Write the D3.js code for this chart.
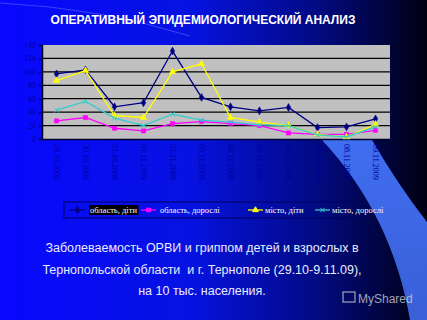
<!DOCTYPE html>
<html>
<head>
<meta charset="utf-8">
<style>
  body {margin: 0; background: #000;}
  svg {display: block;}
</style>
<script src="https://d3js.org/d3.v7.min.js"></script>
</head>
<body>
<svg id="slide" width="427" height="320"></svg>
<script>
// dates on the x axis
var dates = ["29.10.2009", "30.10.2009", "31.10.2009", "01.11.2009", "02.11.2009", "03.11.2009",
             "04.11.2009", "05.11.2009", "06.11.2009", "07.11.2009", "08.11.2009", "09.11.2009"];
var yTicks = [0, 20, 40, 60, 80, 100, 120, 140];

// cases per 10 000
var oblastChildren = [97, 103, 48, 54, 131, 62, 48, 42, 47, 17, 18, 30];
var oblastAdults   = [27, 32, 16, 12, 23, 26, 23, 20, 9, 7, 7, 13];
var cityChildren   = [87, 102, 35, 32, 100, 112, 32, 25, 20, 7, 3, 22];
var cityAdults     = [43, 56, 31, 20, 37, 28, 25, 21, 20, 6, 3, 18];

var seriesNames = ["область, діти", "область, дорослі", "місто, діти", "місто, дорослі"];
var seriesColors = ["#000080", "#ff00ff", "#ffff00", "#33cccc"];
var seriesMarkers = ["diamond", "square", "triangle", "cross"];
var seriesValues = [oblastChildren, oblastAdults, cityChildren, cityAdults];

var svg = d3.select("#slide");

// background gradient
var defs = svg.append("defs");
var bg = defs.append("linearGradient").attr("id", "bg")
  .attr("x1", "0").attr("y1", "0").attr("x2", "1").attr("y2", "0");
bg.append("stop").attr("offset", "0%").attr("stop-color", "#0808ff");
bg.append("stop").attr("offset", "45%").attr("stop-color", "#0612e0");
bg.append("stop").attr("offset", "75%").attr("stop-color", "#020a80");
bg.append("stop").attr("offset", "100%").attr("stop-color", "#000010");
svg.append("rect").attr("width", 427).attr("height", 320).attr("fill", "url(#bg)");

var band = defs.append("linearGradient").attr("id", "band")
  .attr("x1", "0").attr("y1", "0").attr("x2", "0").attr("y2", "1");
band.append("stop").attr("offset", "0%").attr("stop-color", "#3f6ef0");
band.append("stop").attr("offset", "100%").attr("stop-color", "#3a5fd8");

// light sweep on the right
svg.append("path")
  .attr("d", "M322,140 L372,140 Q398,185 427,222 L427,320 L410,320 Q392,215 322,140 Z")
  .attr("fill", "url(#band)");
// faint ray at the top
svg.append("path")
  .attr("d", "M0,3 Q100,8 190,36")
  .attr("fill", "none").attr("stroke", "#6a7dff").attr("stroke-opacity", 0.5).attr("stroke-width", 1);

// title
svg.append("text")
  .attr("x", 203).attr("y", 24)
  .attr("text-anchor", "middle")
  .style("font-family", "'Liberation Sans', Arial, sans-serif")
  .style("font-weight", "bold")
  .style("font-size", "12px")
  .attr("fill", "#ffffff")
  .text("ОПЕРАТИВНЫЙ ЭПИДЕМИОЛОГИЧЕСКИЙ АНАЛИЗ");

// chart
var plotLeft = 42, plotRight = 390, plotTop = 45, plotBottom = 139;

var x = d3.scaleBand().domain(dates).range([plotLeft, plotRight]);
var y = d3.scaleLinear().domain([0, 140]).range([plotBottom, plotTop]);

svg.append("rect")
  .attr("x", plotLeft).attr("y", plotTop)
  .attr("width", plotRight - plotLeft).attr("height", plotBottom - plotTop)
  .attr("fill", "#c0c0c0");

svg.append("g").selectAll("line")
  .data(yTicks.filter(function(d) { return d > 0 && d < 140; }))
  .join("line")
  .attr("x1", plotLeft).attr("x2", plotRight)
  .attr("y1", function(d) { return y(d); })
  .attr("y2", function(d) { return y(d); })
  .attr("stroke", "#000").attr("stroke-width", 1.3);

var yAxis = svg.append("g")
  .attr("transform", "translate(" + plotLeft + ",0)")
  .call(d3.axisLeft(y).tickValues(yTicks).tickSize(3));
yAxis.select(".domain").attr("stroke", "#000020").attr("stroke-width", 1.5);
yAxis.selectAll(".tick line").attr("stroke", "#000030");
yAxis.selectAll("text")
  .style("font-family", "'Liberation Serif', 'Times New Roman', serif")
  .style("font-size", "8px")
  .attr("fill", "#0000b4");

var xAxis = svg.append("g")
  .attr("transform", "translate(0," + plotBottom + ")")
  .call(d3.axisBottom(x).tickSize(0));
xAxis.select(".domain").attr("stroke", "#000030").attr("stroke-width", 1.5);
xAxis.selectAll("text")
  .style("font-family", "'Liberation Serif', 'Times New Roman', serif")
  .style("font-size", "8px")
  .attr("fill", "#00009a")
  .attr("text-anchor", "start")
  .attr("transform", "rotate(90)")
  .attr("dy", "0.35em")
  .attr("x", 5)
  .attr("y", 0);

var line = d3.line()
  .x(function(d, i) { return x(dates[i]) + x.bandwidth() / 2; })
  .y(function(d) { return y(d); });

var symbolFor = {
  diamond: d3.symbolDiamond,
  square: d3.symbolSquare,
  triangle: d3.symbolTriangle,
  cross: d3.symbolX
};

seriesValues.forEach(function(values, s) {
  var g = svg.append("g");
  g.append("path")
    .datum(values)
    .attr("d", line)
    .attr("fill", "none")
    .attr("stroke", seriesColors[s])
    .attr("stroke-width", 1.3);
  g.selectAll("path.pt")
    .data(values)
    .join("path")
    .attr("class", "pt")
    .attr("transform", function(d, i) {
      return "translate(" + (x(dates[i]) + x.bandwidth() / 2) + "," + y(d) + ")";
    })
    .attr("d", d3.symbol().type(symbolFor[seriesMarkers[s]]).size(18))
    .attr("fill", seriesMarkers[s] === "cross" ? "none" : seriesColors[s])
    .attr("stroke", seriesColors[s])
    .attr("stroke-width", seriesMarkers[s] === "cross" ? 1 : 0.5);
});

// legend
var legendItems = [
  {lx: 70, tx: 90},
  {lx: 141, tx: 160},
  {lx: 248, tx: 265},
  {lx: 315, tx: 332}
];
var legend = svg.append("g");
legend.append("rect")
  .attr("x", 64).attr("y", 202).attr("width", 301).attr("height", 16)
  .attr("fill", "none").attr("stroke", "#000060").attr("stroke-width", 1);

legendItems.forEach(function(it, s) {
  var name = seriesNames[s];
  var t = legend.append("text")
    .attr("x", it.tx).attr("y", 213)
    .style("font-family", "'Liberation Serif', 'Times New Roman', serif")
    .style("font-size", "8.5px")
    .attr("fill", "#ffffff")
    .text(name);
  if (s === 0) {
    var bb = t.node().getBBox();
    legend.insert("rect", "text")
      .attr("x", bb.x - 1).attr("y", bb.y).attr("width", bb.width + 2).attr("height", bb.height)
      .attr("fill", "#000000");
  }
  legend.append("line")
    .attr("x1", it.lx).attr("x2", it.lx + 15)
    .attr("y1", 210).attr("y2", 210)
    .attr("stroke", seriesColors[s]).attr("stroke-width", 1.3);
  legend.append("path")
    .attr("transform", "translate(" + (it.lx + 7.5) + ",210)")
    .attr("d", d3.symbol().type(symbolFor[seriesMarkers[s]]).size(14))
    .attr("fill", seriesMarkers[s] === "cross" ? "none" : seriesColors[s])
    .attr("stroke", seriesColors[s])
    .attr("stroke-width", 1);
});

// caption
var caption = [
  "Заболеваемость ОРВИ и гриппом детей и взрослых в",
  "Тернопольской области  и г. Тернополе (29.10-9.11.09),",
  "на 10 тыс. населения."
];
svg.append("g").selectAll("text")
  .data(caption)
  .join("text")
  .attr("x", 202)
  .attr("y", function(d, i) { return 252 + i * 21.5; })
  .attr("text-anchor", "middle")
  .style("font-family", "'Liberation Sans', Arial, sans-serif")
  .style("font-size", "12.5px")
  .style("white-space", "pre")
  .attr("fill", "#e8ecff")
  .text(function(d) { return d; });

// watermark
var wm = svg.append("g").attr("opacity", 0.75);
wm.append("rect").attr("x", 343).attr("y", 292).attr("width", 12).attr("height", 10)
  .attr("fill", "none").attr("stroke", "#d8d8d8").attr("stroke-width", 1.2);
wm.append("text")
  .attr("x", 358).attr("y", 303)
  .style("font-family", "'Liberation Sans', Arial, sans-serif")
  .style("font-size", "12px")
  .attr("fill", "#d8d8d8")
  .text("MyShared");
</script>
</body>
</html>
